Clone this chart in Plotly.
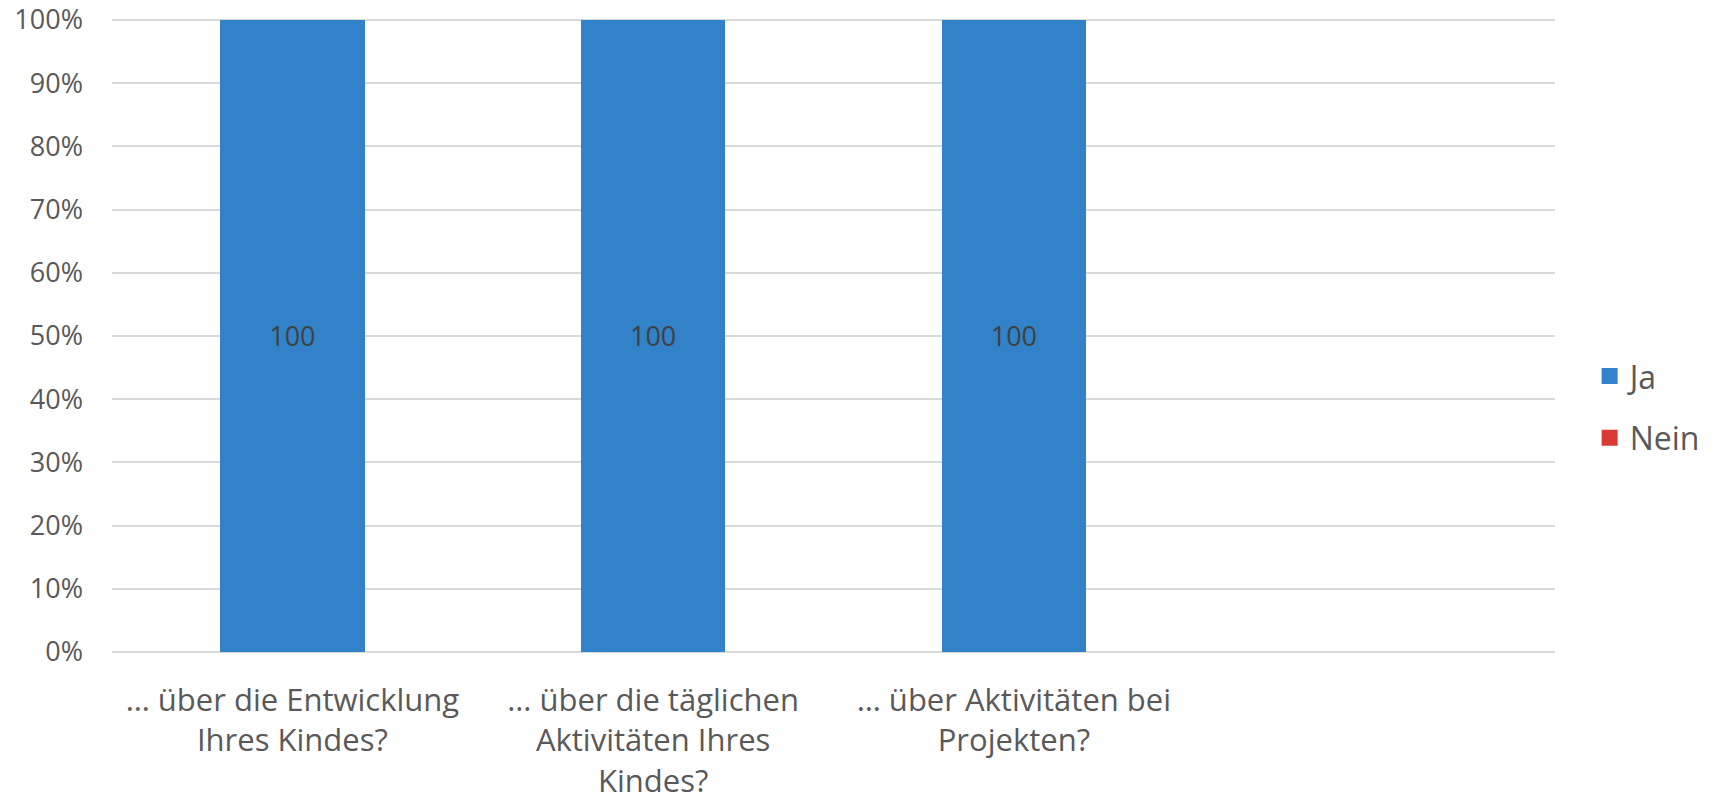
import plotly.graph_objects as go

categories = ["… über die Entwicklung<br>Ihres Kindes?",
              "… über die täglichen<br>Aktivitäten Ihres<br>Kindes?",
              "… über Aktivitäten bei<br>Projekten?",
              " "]
ja = [100, 100, 100, None]
nein = [0, 0, 0, None]
y_ticks = [0, 10, 20, 30, 40, 50, 60, 70, 80, 90, 100]
y_ticktext = [f"{v}%" for v in y_ticks]

FONT = "Open Sans"
BLUE = "#3282C9"
RED = "#D83B34"

fig = go.Figure()
fig.add_trace(go.Bar(
    name="Ja", x=categories, y=ja, marker_color=BLUE, marker_line_width=0,
    text=[str(v) if v is not None else "" for v in ja], textposition="inside",
    insidetextanchor="middle", textfont=dict(color="#404040", size=27, family=FONT),
    showlegend=False, legendgroup="ja",
))
fig.add_trace(go.Bar(
    name="Nein", x=categories, y=nein, marker_color=RED, marker_line_width=0,
    showlegend=False, legendgroup="nein",
))
# legend proxies (large square keys like the reference)
fig.add_trace(go.Scatter(name="Ja", x=[None], y=[None], mode="markers",
                         marker=dict(symbol="square", size=20, color=BLUE),
                         legendgroup="ja"))
fig.add_trace(go.Scatter(name="Nein", x=[None], y=[None], mode="markers",
                         marker=dict(symbol="square", size=20, color=RED),
                         legendgroup="nein"))

fig.update_layout(
    barmode="stack",
    bargap=0.6,
    width=1717, height=805,
    margin=dict(l=112, r=162, t=18, b=153, autoexpand=False),
    plot_bgcolor="white", paper_bgcolor="white",
    font=dict(family=FONT, size=27, color="#595959"),
    legend=dict(x=1.024, y=0.386, xanchor="left", yanchor="middle",
                font=dict(size=32, color="#595959"), itemsizing="trace",
                tracegroupgap=17, itemwidth=30, traceorder="grouped"),
    showlegend=True,
)
fig.update_xaxes(showline=False, ticks="", tickangle=0, showgrid=False, automargin=False,
                 ticklabelstandoff=27, ticklabeloverflow="allow",
                 tickfont=dict(size=31, color="#595959"))
fig.update_yaxes(range=[0, 100.3], tickvals=y_ticks, ticktext=y_ticktext, automargin=False,
                 showgrid=True, gridcolor="#D9D9D9", gridwidth=1.5,
                 zeroline=True, zerolinecolor="#D9D9D9", zerolinewidth=1.5,
                 showline=False, ticks="", ticklabelstandoff=28, ticklabeloverflow="allow",
                 tickfont=dict(size=27, color="#595959"))

fig.write_html("out.html", post_script="document.body.style.margin='0';",
               config={"displayModeBar": False})
